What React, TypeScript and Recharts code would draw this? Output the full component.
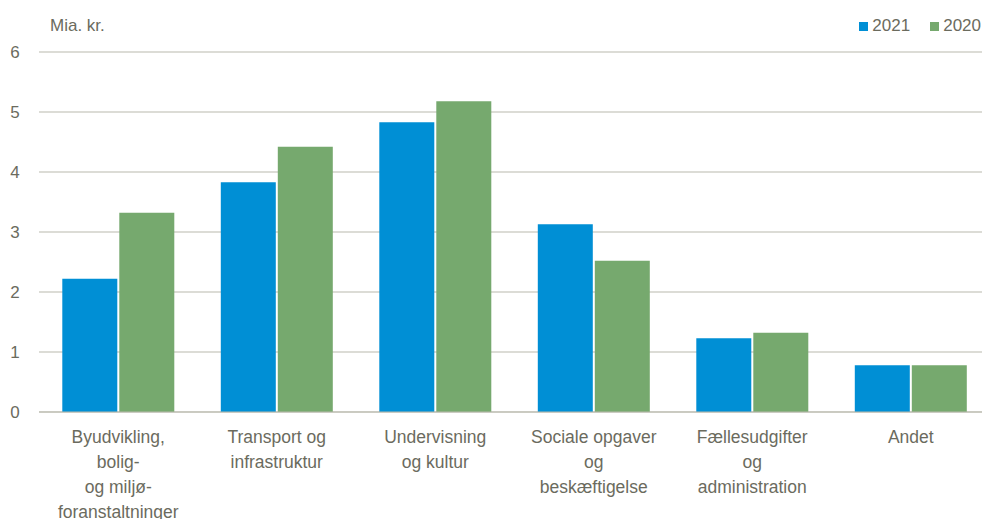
import React from 'react';
import { BarChart, Bar, XAxis, YAxis, CartesianGrid } from 'recharts';

const categories = [
  'Byudvikling,\nbolig-\nog miljø-\nforanstaltninger',
  'Transport og\ninfrastruktur',
  'Undervisning\nog kultur',
  'Sociale opgaver\nog\nbeskæftigelse',
  'Fællesudgifter\nog\nadministration',
  'Andet',
];
const values2021 = [2.22, 3.83, 4.83, 3.13, 1.23, 0.78];
const values2020 = [3.32, 4.42, 5.18, 2.52, 1.32, 0.78];
const yTicks = [0, 1, 2, 3, 4, 5, 6];

const BLUE = '#008fd5';
const GREEN = '#76a96e';
const TEXT = '#6b6b5e';
const GRID = '#b9b9ad';
const FONT = '"Liberation Sans", Arial, sans-serif';

const data = categories.map((name, i) => ({
  name,
  y2021: values2021[i],
  y2020: values2020[i],
}));

const CategoryTick = ({ x, y, payload }: any) => {
  const lines = String(payload.value).split('\n');
  return (
    <text x={x} y={y} textAnchor="middle" fill={TEXT} fontSize={17.5} fontFamily={FONT}>
      {lines.map((l, i) => (
        <tspan key={i} x={x} dy={i === 0 ? 23 : 25}>
          {l}
        </tspan>
      ))}
    </text>
  );
};

const ValueTick = ({ y, payload }: any) => (
  <text x={15} y={y} dy={6} textAnchor="middle" fill={TEXT} fontSize={17} fontFamily={FONT}>
    {payload.value}
  </text>
);

export default function App() {
  return (
    <div style={{ position: 'absolute', left: 0, top: 0, width: 982, height: 519, background: '#fff', fontFamily: FONT, overflow: 'hidden' }}>
      <div style={{ position: 'absolute', left: 50, top: 16, fontSize: 17, color: TEXT }}>Mia. kr.</div>
      <div style={{ position: 'absolute', right: 1, top: 16, fontSize: 17, color: TEXT, display: 'flex', alignItems: 'center' }}>
        <span style={{ display: 'inline-block', width: 9, height: 9, background: BLUE, marginRight: 4 }} />
        <span style={{ marginRight: 20 }}>2021</span>
        <span style={{ display: 'inline-block', width: 9, height: 9, background: GREEN, marginRight: 4 }} />
        <span>2020</span>
      </div>
      <BarChart
        width={990}
        height={519}
        data={data}
        margin={{ top: 52, right: 0, left: 0, bottom: 0 }}
        barCategoryGap="14.7%"
        barGap={2}
      >
        <CartesianGrid vertical={false} stroke={GRID} strokeWidth={1} />
        <XAxis
          dataKey="name"
          axisLine={{ stroke: GRID }}
          tickLine={false}
          interval={0}
          height={107}
          tick={<CategoryTick />}
        />
        <YAxis
          domain={[0, 6]}
          ticks={yTicks}
          width={39}
          axisLine={false}
          tickLine={false}
          tick={<ValueTick />}
        />
        <Bar dataKey="y2021" fill={BLUE} isAnimationActive={false} />
        <Bar dataKey="y2020" fill={GREEN} isAnimationActive={false} />
      </BarChart>
    </div>
  );
}
